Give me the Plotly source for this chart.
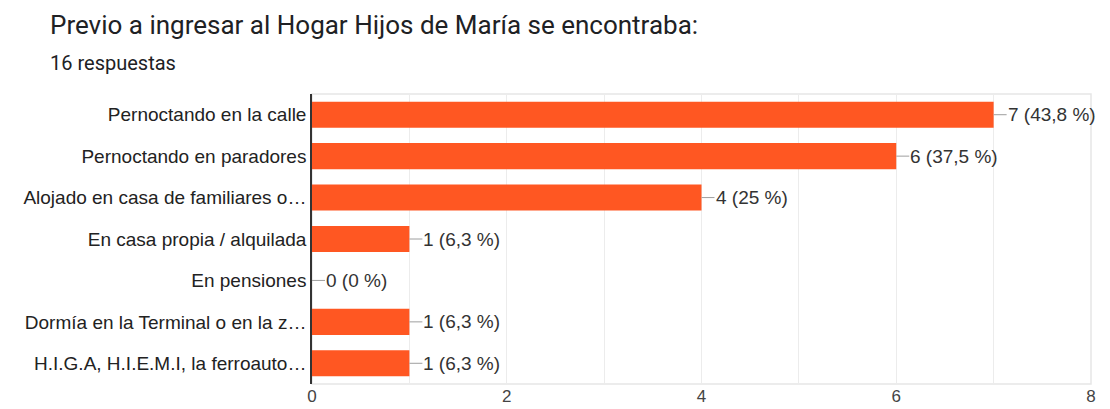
import plotly.graph_objects as go

title = "Previo a ingresar al Hogar Hijos de María se encontraba:"
subtitle = "16 respuestas"
categories = [
    "Pernoctando en la calle",
    "Pernoctando en paradores",
    "Alojado en casa de familiares o…",
    "En casa propia / alquilada",
    "En pensiones",
    "Dormía en la Terminal o en la z…",
    "H.I.G.A, H.I.E.M.I, la ferroauto…",
]
counts = [7, 6, 4, 1, 0, 1, 1]
percent_labels = ["43,8 %", "37,5 %", "25 %", "6,3 %", "0 %", "6,3 %", "6,3 %"]
x_ticks = [0, 2, 4, 6, 8]

L, R, T, B = 304, 19, 86, 25
W, H = 1102, 401
PW, PH = W - L - R, H - T - B

fig = go.Figure()
fig.add_trace(go.Bar(
    x=counts, y=categories, orientation="h",
    marker=dict(color="#ff5722", line=dict(width=0)),
    hoverinfo="skip",
))

for c, cat, p in zip(counts, categories, percent_labels):
    fig.add_annotation(
        x=c, y=cat, xref="x", yref="y",
        text=f"{c} ({p})", showarrow=True, arrowhead=0, arrowwidth=1,
        arrowcolor="#9e9e9e", ax=13, ay=0, axref="pixel", ayref="pixel",
        xanchor="left", borderpad=0, standoff=0,
        font=dict(family="Liberation Sans, Arial", size=19, color="#333333"),
    )

fig.add_shape(type="rect", xref="paper", yref="paper", x0=0, x1=1, y0=0, y1=1,
              line=dict(color="#e6e6e6", width=1.5), layer="below")

fig.add_annotation(text=title, xref="paper", yref="paper",
                   x=(41 - L) / PW, y=1 + (94 - 25) / PH,
                   xanchor="left", yanchor="middle", showarrow=False, borderpad=0,
                   font=dict(family="Roboto", size=26, color="#202124"))
fig.add_annotation(text=subtitle, xref="paper", yref="paper",
                   x=(41 - L) / PW, y=1 + (94 - 63) / PH,
                   xanchor="left", yanchor="middle", showarrow=False, borderpad=0,
                   font=dict(family="Roboto", size=20, color="#202124"))

fig.update_layout(
    width=W, height=H,
    margin=dict(l=L, r=R, t=T, b=B, autoexpand=False),
    paper_bgcolor="white", plot_bgcolor="white",
    showlegend=False, bargap=0.37,
    font=dict(family="Liberation Sans, Arial", size=19, color="#222222"),
    xaxis=dict(range=[0, 8], tickvals=x_ticks, showgrid=True, gridcolor="#ececec",
               minor=dict(dtick=1, showgrid=True, gridcolor="#ececec"),
               zeroline=False, showline=False, ticks="", automargin=False,
               ticklabelstandoff=0,
               tickfont=dict(size=17, color="#444444")),
    yaxis=dict(categoryorder="array", categoryarray=categories[::-1],
               autorange=True, showgrid=False, ticks="", showline=True,
               linecolor="#333333", linewidth=1.5, automargin=False,
               ticklabelstandoff=0,
               tickfont=dict(size=19, color="#222222")),
)

fig.write_html("out.html")
